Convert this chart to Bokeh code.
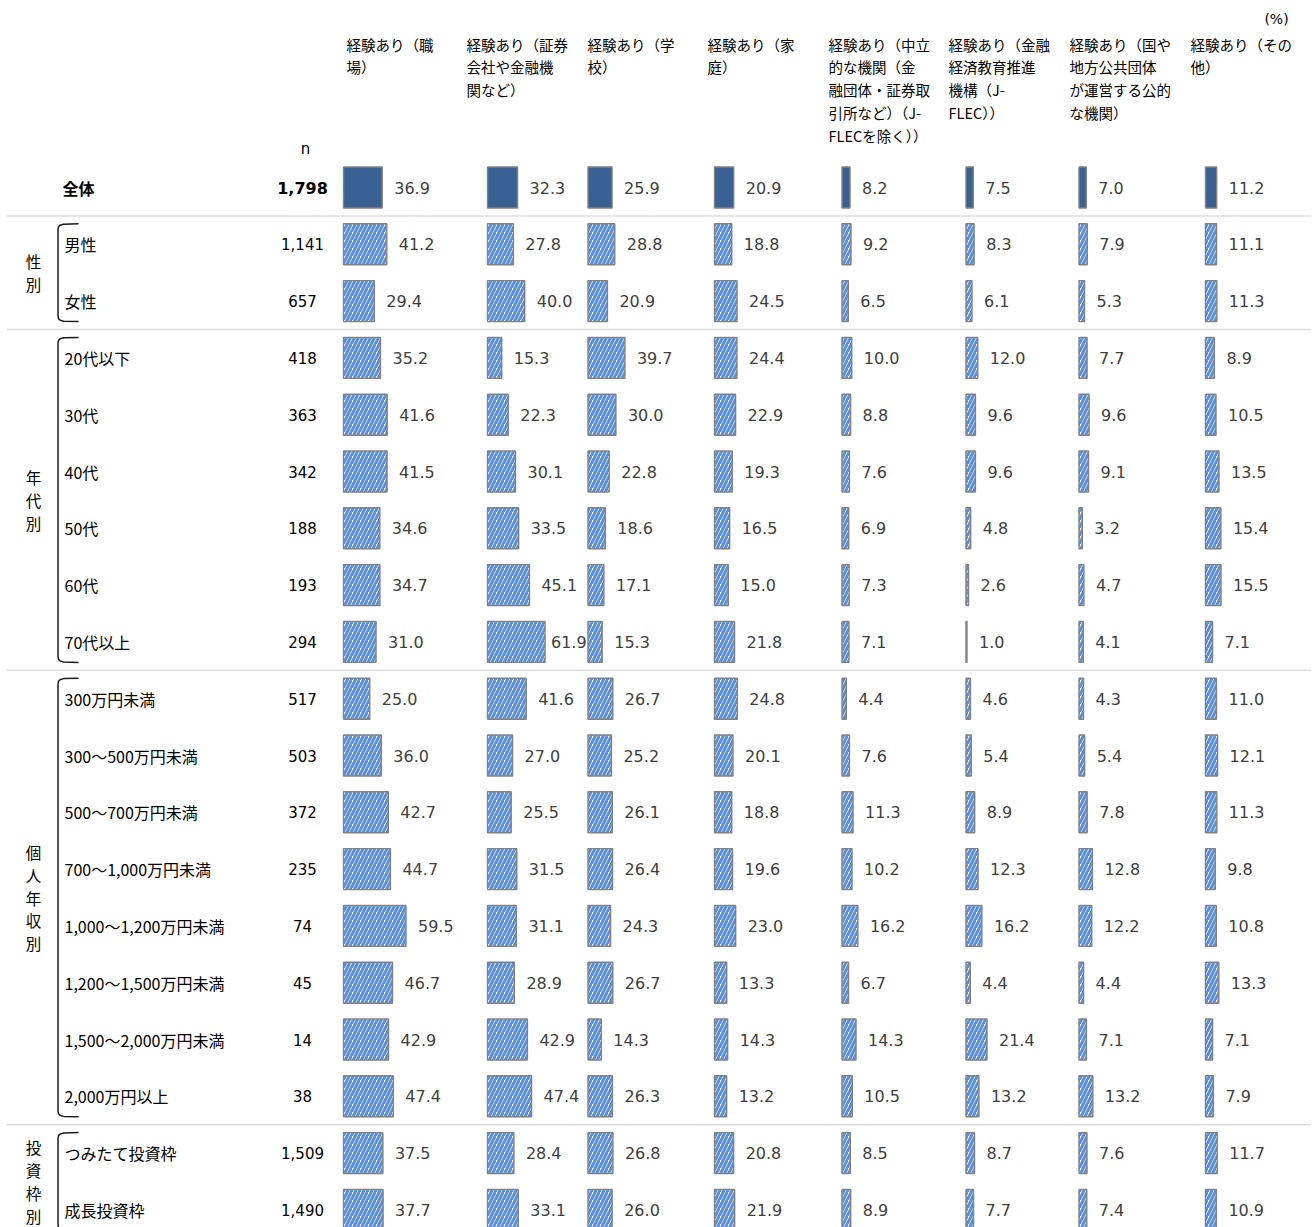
from bokeh.plotting import figure
from bokeh.models import ColumnDataSource, Range1d
from bokeh.core.properties import value
from bokeh.embed import file_html
from bokeh.resources import INLINE

# ---- data -----------------------------------------------------------------
row_labels = [
    "全体", "男性", "女性",
    "20代以下", "30代", "40代", "50代", "60代", "70代以上",
    "300万円未満", "300～500万円未満", "500～700万円未満", "700～1,000万円未満",
    "1,000～1,200万円未満", "1,200～1,500万円未満", "1,500～2,000万円未満", "2,000万円以上",
    "つみたて投資枠", "成長投資枠",
]
n_values = [1798, 1141, 657, 418, 363, 342, 188, 193, 294,
            517, 503, 372, 235, 74, 45, 14, 38, 1509, 1490]

col_headers = [
    ["経験あり（職", "場）"],
    ["経験あり（証券", "会社や金融機", "関など）"],
    ["経験あり（学", "校）"],
    ["経験あり（家", "庭）"],
    ["経験あり（中立", "的な機関（金", "融団体・証券取", "引所など）（J-", "FLECを除く））"],
    ["経験あり（金融", "経済教育推進", "機構（J-", "FLEC））"],
    ["経験あり（国や", "地方公共団体", "が運営する公的", "な機関）"],
    ["経験あり（その", "他）"],
]

shokuba  = [36.9, 41.2, 29.4, 35.2, 41.6, 41.5, 34.6, 34.7, 31.0, 25.0, 36.0, 42.7, 44.7, 59.5, 46.7, 42.9, 47.4, 37.5, 37.7]
shoken   = [32.3, 27.8, 40.0, 15.3, 22.3, 30.1, 33.5, 45.1, 61.9, 41.6, 27.0, 25.5, 31.5, 31.1, 28.9, 42.9, 47.4, 28.4, 33.1]
gakko    = [25.9, 28.8, 20.9, 39.7, 30.0, 22.8, 18.6, 17.1, 15.3, 26.7, 25.2, 26.1, 26.4, 24.3, 26.7, 14.3, 26.3, 26.8, 26.0]
katei    = [20.9, 18.8, 24.5, 24.4, 22.9, 19.3, 16.5, 15.0, 21.8, 24.8, 20.1, 18.8, 19.6, 23.0, 13.3, 14.3, 13.2, 20.8, 21.9]
churitsu = [8.2, 9.2, 6.5, 10.0, 8.8, 7.6, 6.9, 7.3, 7.1, 4.4, 7.6, 11.3, 10.2, 16.2, 6.7, 14.3, 10.5, 8.5, 8.9]
jflec    = [7.5, 8.3, 6.1, 12.0, 9.6, 9.6, 4.8, 2.6, 1.0, 4.6, 5.4, 8.9, 12.3, 16.2, 4.4, 21.4, 13.2, 8.7, 7.7]
koteki   = [7.0, 7.9, 5.3, 7.7, 9.6, 9.1, 3.2, 4.7, 4.1, 4.3, 5.4, 7.8, 12.8, 12.2, 4.4, 7.1, 13.2, 7.6, 7.4]
sonota   = [11.2, 11.1, 11.3, 8.9, 10.5, 13.5, 15.4, 15.5, 7.1, 11.0, 12.1, 11.3, 9.8, 10.8, 13.3, 7.1, 7.9, 11.7, 10.9]

series = [shokuba, shoken, gakko, katei, churitsu, jflec, koteki, sonota]

# groups: (label, first row, last row)
groups = [("性別", 1, 2), ("年代別", 3, 8), ("個人年収別", 9, 16), ("投資枠別", 17, 18)]

# ---- layout ---------------------------------------------------------------
W, H = 1312, 1227
ROW0, ROW_STEP = 187.0, 56.8
BAR_HALF = 20.5
header_x = [346, 466, 587, 707, 828, 948, 1069, 1190]
bar_x0 = [343, 487, 587.5, 714, 841.5, 965.5, 1078.5, 1205]
px_per_pct = [1.05, 0.93, 0.93, 0.92, 0.98, 0.98, 1.05, 1.0]
plot_right = bar_x0[1:] + [W]

NUM_FONT = value("DejaVu Sans")
JP_FONT = value("Noto Sans CJK JP")
SOLID = "#3a6194"
HATCH = "#5b8fd9"
EDGE = "#828282"

row_y = [ROW0 + i * ROW_STEP for i in range(len(row_labels))]

p = figure(width=W, height=H, x_range=Range1d(0, W), y_range=Range1d(H, 0),
           output_backend="svg", toolbar_location=None, min_border=0)
p.axis.visible = False
p.grid.visible = False
p.outline_line_color = None
p.background_fill_color = "white"

# ---- bars -----------------------------------------------------------------
solid = dict(left=[], right=[], top=[], bottom=[])
hatched = dict(left=[], right=[], top=[], bottom=[])
lab = dict(x=[], y=[], text=[])
for j, vals in enumerate(series):
    for i, v in enumerate(vals):
        x0 = bar_x0[j]
        x1 = x0 + v * px_per_pct[j]
        tgt = solid if i == 0 else hatched
        tgt["left"].append(x0)
        tgt["right"].append(x1)
        tgt["top"].append(row_y[i] - BAR_HALF)
        tgt["bottom"].append(row_y[i] + BAR_HALF)
        lab["x"].append(min(x1 + 12, plot_right[j] - 37))
        lab["y"].append(row_y[i])
        lab["text"].append(f"{v:.1f}")

p.quad(source=ColumnDataSource(solid), left="left", right="right", top="top", bottom="bottom",
       fill_color=SOLID, line_color=EDGE, line_width=1.4)
p.quad(source=ColumnDataSource(hatched), left="left", right="right", top="top", bottom="bottom",
       fill_color="white", line_color=EDGE, line_width=1.4,
       hatch_pattern="right_diagonal_line", hatch_color=HATCH, hatch_weight=3.0, hatch_scale=8)

p.text(source=ColumnDataSource(lab), x="x", y="y", text="text",
       text_font=NUM_FONT, text_font_size="16px", text_color="#404040",
       text_align="left", text_baseline="middle")

# ---- row labels and n ------------------------------------------------------
p.text(x=[62], y=[row_y[0]], text=[row_labels[0]], text_font=JP_FONT,
       text_font_size="16px", text_font_style="bold", text_color="black",
       text_align="left", text_baseline="middle")
p.text(x=[64] * (len(row_labels) - 1), y=row_y[1:], text=row_labels[1:], text_font=JP_FONT,
       text_font_size="16px", text_color="black", text_align="left", text_baseline="middle")

n_text = [f"{n:,}" for n in n_values]
p.text(x=[302], y=[row_y[0]], text=[n_text[0]], text_font=NUM_FONT, text_font_size="16px",
       text_font_style="bold", text_color="black", text_align="center", text_baseline="middle")
p.text(x=[302] * (len(n_text) - 1), y=row_y[1:], text=n_text[1:], text_font=NUM_FONT,
       text_font_size="15px", text_color="black", text_align="center", text_baseline="middle")
p.text(x=[305], y=[148], text=["n"], text_font=NUM_FONT, text_font_size="15px",
       text_color="black", text_align="center", text_baseline="middle")

# ---- column headers --------------------------------------------------------
hx, hy, ht = [], [], []
for j, lines in enumerate(col_headers):
    for k, line in enumerate(lines):
        hx.append(header_x[j])
        hy.append(43.5 + k * 22.8)
        ht.append(line)
p.text(x=hx, y=hy, text=ht, text_font=JP_FONT, text_font_size="14.5px", text_color="black",
       text_align="left", text_baseline="middle")
p.text(x=[1276], y=[18], text=["(%)"], text_font=NUM_FONT, text_font_size="14px",
       text_color="black", text_align="center", text_baseline="middle")

# ---- group separators, brackets and group labels ---------------------------
sep_y = [(row_y[g[1] - 1] + row_y[g[1]]) / 2 for g in groups]
p.multi_line(xs=[[7, 1310]] * len(sep_y), ys=[[y, y] for y in sep_y],
             line_color="#bdbdbd", line_width=1.5, line_dash="1 1")

bxs, bys = [], []
gx, gy, gt = [], [], []
for name, a, b in groups:
    top = row_y[a] - 20.5
    bot = min(row_y[b] + 20.5, H + 10)
    bxs.append([78, 63, 59.5, 58, 57.5, 57.5, 58, 59.5, 63, 78])
    bys.append([top, top + 0.4, top + 1.5, top + 3, top + 6, bot - 6, bot - 3, bot - 1.5, bot - 0.4, bot])
    mid = (row_y[a] + row_y[b]) / 2
    step = 22.8
    for k, ch in enumerate(name):
        gx.append(33)
        gy.append(mid + (k - (len(name) - 1) / 2) * step)
        gt.append(ch)
p.multi_line(xs=bxs, ys=bys, line_color="#1a1a1a", line_width=1.5)
p.text(x=gx, y=gy, text=gt, text_font=JP_FONT, text_font_size="15.5px", text_color="black",
       text_align="center", text_baseline="middle")

open("out.html", "w").write(file_html(p, INLINE))
